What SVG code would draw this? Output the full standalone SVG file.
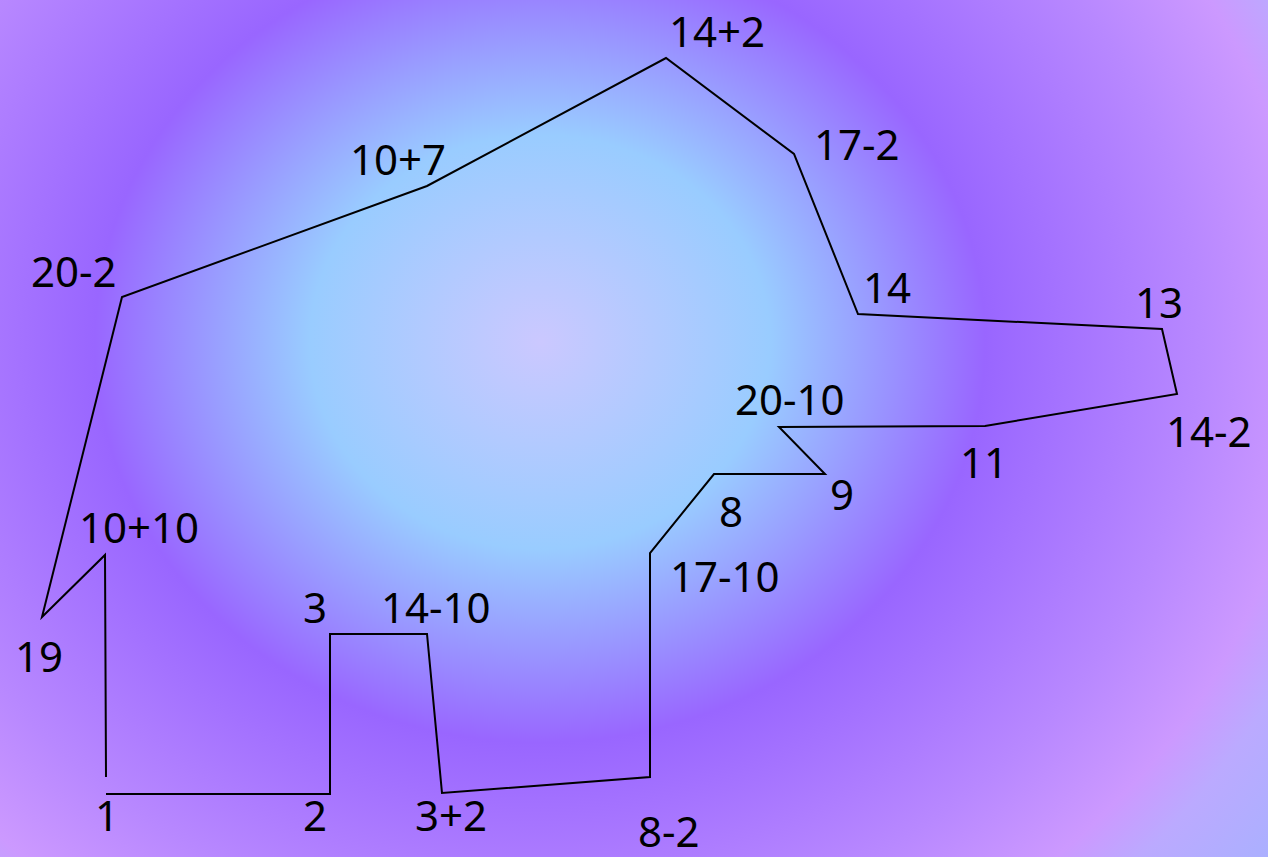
<svg xmlns="http://www.w3.org/2000/svg" width="1268" height="857" viewBox="0 0 1268 857">
<defs>
<radialGradient id="bg" gradientUnits="userSpaceOnUse" cx="540" cy="342" r="1000" gradientTransform="translate(540 342) scale(1 0.9) translate(-540 -342)">
<stop offset="0" stop-color="#cbc8ff"/>
<stop offset="0.23" stop-color="#99ccff"/>
<stop offset="0.445" stop-color="#9966ff"/>
<stop offset="0.66" stop-color="#b888ff"/>
<stop offset="0.77" stop-color="#cc99ff"/>
<stop offset="0.83" stop-color="#bbaaff"/>
<stop offset="0.93" stop-color="#aab0ff"/>
<stop offset="1" stop-color="#aab0ff"/>
</radialGradient>
<style>
.lbl{font-family:"Noto Sans","DejaVu Sans",sans-serif;font-size:42px;fill:#000}
.ln{fill:none;stroke:#000;stroke-width:2;stroke-linejoin:miter}
</style>
</defs>
<rect x="0" y="0" width="1268" height="857" fill="url(#bg)"/>
<g id="connectors">
<polyline class="ln" points="106,794 330,794 330,634 427,634 442,793 650,777 650,553 714,474 825,474 779,427 985,426 1177,394 1162,329 858,314 794,154 666,58 427,186 122,297 42,617 105,555 106,777"/>
</g>
<g id="n1"><text class="lbl" x="95" y="831">1</text></g>
<g id="n2"><text class="lbl" x="303" y="831">2</text></g>
<g id="n3"><text class="lbl" x="303" y="623">3</text></g>
<g id="n4"><text class="lbl" x="381" y="623">14-10</text></g>
<g id="n5"><text class="lbl" x="415" y="831">3+2</text></g>
<g id="n6"><text class="lbl" x="638" y="847">8-2</text></g>
<g id="n7"><text class="lbl" x="670" y="592">17-10</text></g>
<g id="n8"><text class="lbl" x="719" y="527">8</text></g>
<g id="n9"><text class="lbl" x="830" y="510">9</text></g>
<g id="n10"><text class="lbl" x="735" y="415">20-10</text></g>
<g id="n11"><text class="lbl" x="960" y="478">11</text></g>
<g id="n12"><text class="lbl" x="1166" y="447">14-2</text></g>
<g id="n13"><text class="lbl" x="1135" y="318">13</text></g>
<g id="n14"><text class="lbl" x="863" y="303">14</text></g>
<g id="n15"><text class="lbl" x="814" y="160">17-2</text></g>
<g id="n16"><text class="lbl" x="669" y="47">14+2</text></g>
<g id="n17"><text class="lbl" x="350" y="175">10+7</text></g>
<g id="n18"><text class="lbl" x="31" y="287">20-2</text></g>
<g id="n19"><text class="lbl" x="15" y="672">19</text></g>
<g id="n20"><text class="lbl" x="79" y="543">10+10</text></g>
</svg>
